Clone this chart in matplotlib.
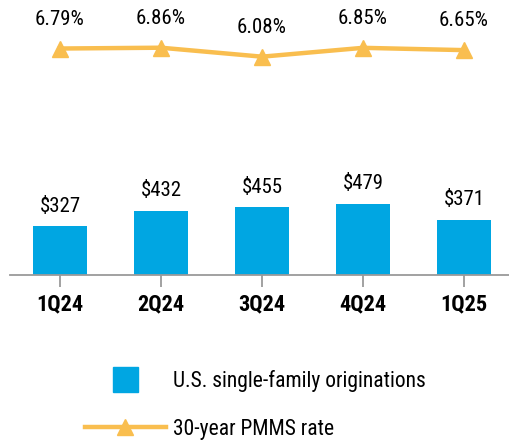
import matplotlib
matplotlib.use("Agg")
import matplotlib.pyplot as plt
from matplotlib.lines import Line2D

quarters = ["1Q24", "2Q24", "3Q24", "4Q24", "1Q25"]
originations = [327, 432, 455, 479, 371]
pmms_rate = [6.79, 6.86, 6.08, 6.85, 6.65]

BLUE = "#00A6E2"
GOLD = "#F9BE4F"
GREY = "#9A9A9A"

plt.rcParams["font.family"] = ["Roboto Condensed", "DejaVu Sans"]

fig = plt.figure(figsize=(5.09, 4.41), dpi=100)
ax = fig.add_axes([10 / 509, 1 - 275 / 441, 499 / 509, 275 / 441])

x = list(range(len(quarters)))
ax.bar(x, originations, width=0.535, color=BLUE)
ax.set_xlim(-0.495, 4.446)
ax.set_ylim(0, 1845)
for xi, v in zip(x, originations):
    ax.annotate(f"${v}", (xi, v), xytext=(0, 14.5), textcoords="offset points",
                ha="center", va="center", fontsize=15)

for s in ["top", "right", "left"]:
    ax.spines[s].set_visible(False)
ax.spines["bottom"].set_color(GREY)
ax.spines["bottom"].set_linewidth(1.3)
ax.set_yticks([])
ax.set_xticks(x)
ax.set_xticklabels(quarters, fontsize=16, fontweight="bold")
ax.tick_params(axis="x", length=8.5, width=1.3, color=GREY, pad=5)

ax2 = ax.twinx()
ax2.plot(x, pmms_rate, color=GOLD, lw=3.2, marker="^", markersize=11)
ax2.set_ylim(-12.91, 11.01)
ax2.axis("off")
for xi, v in zip(x, pmms_rate):
    ax2.annotate(f"{v:.2f}%", (xi, v), xytext=(0, 21), textcoords="offset points",
                 ha="center", va="center", fontsize=15)

handles = [
    Line2D([], [], marker="s", ls="none", color=BLUE, markersize=18),
    Line2D([], [], color=GOLD, lw=3.2, marker="^", markersize=11),
]
fig.legend(handles, ["U.S. single-family originations", "30-year PMMS rate"],
           loc="upper left", bbox_to_anchor=(85 / 509, 1 - 370 / 441),
           frameon=False, fontsize=15.5, handlelength=3.75, handletextpad=0.33,
           labelspacing=1.25, borderpad=0, borderaxespad=0, numpoints=1)

fig.savefig("out.png", dpi=100)
